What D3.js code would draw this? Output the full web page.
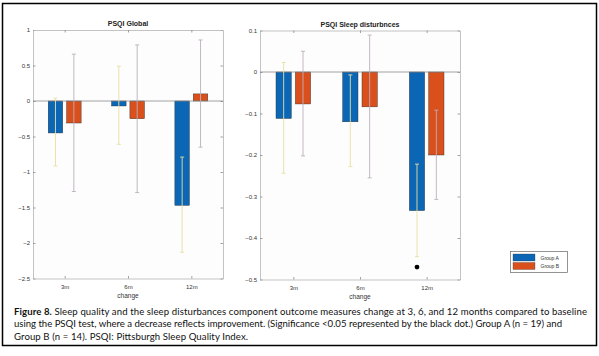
<!DOCTYPE html>
<html><head><meta charset="utf-8">
<script src="https://cdn.jsdelivr.net/npm/d3@7"></script>
<style>body{margin:0;background:#fff}svg{display:block}</style>
</head><body>
<script>
const categories = ["3m", "6m", "12m"];
const groups = ["Group A", "Group B"];
// PSQI Global
const globalA = [-0.45, -0.07, -1.47];
const globalB = [-0.31, -0.25, 0.10];
const globalALow = [-0.915, -0.61, -2.13];
const globalAHigh = [0.04, 0.49, -0.79];
const globalBLow = [-1.275, -1.29, -0.65];
const globalBHigh = [0.66, 0.79, 0.86];
const globalTicks = [-2.5, -2, -1.5, -1, -0.5, 0, 0.5, 1];
// PSQI Sleep disturbances
const distA = [-0.112, -0.12, -0.334];
const distB = [-0.077, -0.084, -0.20];
const distALow = [-0.244, -0.228, -0.445];
const distAHigh = [0.023, -0.007, -0.222];
const distBLow = [-0.202, -0.255, -0.307];
const distBHigh = [0.05, 0.089, -0.092];
const distTicks = [-0.5, -0.4, -0.3, -0.2, -0.1, 0, 0.1];
const sigPoints = [{cat: 2, value: -0.47}];
const captionLines = [
  ["Figure 8.", " Sleep quality and the sleep disturbances component outcome measures change at 3, 6, and 12 months compared to baseline"],
  ["", "using the PSQI test, where a decrease reflects improvement. (Significance <0.05 represented by the black dot.) Group A (n = 19) and"],
  ["", "Group B (n = 14). PSQI: Pittsburgh Sleep Quality Index."]
];
const captionWidths = [573, 548, 234];

const colA = "#0b67b6", colB = "#d9501c";
const errA = "#e8dfa0", errB = "#bcb0bc";

const svg = d3.select("body").append("svg").attr("width", 599).attr("height", 356);
svg.append("rect").attr("width", 599).attr("height", 356).attr("fill", "#fff");
svg.append("rect").attr("x", 2.5).attr("y", 3.5).attr("width", 594).attr("height", 342)
  .attr("fill", "none").attr("stroke", "#000").attr("stroke-width", 1.5);

function panel(opt) {
  const x = d3.scaleLinear().domain([0.5, 3.5]).range([opt.x0, opt.x1]);
  const y = d3.scaleLinear().domain(opt.ydom).range([opt.y1, opt.y0]);
  const g = svg.append("g");
  g.append("rect").attr("x", opt.x0).attr("y", opt.y0).attr("width", opt.x1 - opt.x0)
    .attr("height", opt.y1 - opt.y0).attr("fill", "#fdfdfd");
  const font = "Liberation Sans, Arial, sans-serif";
  const ax = (gen, tr) => {
    const a = g.append("g").attr("transform", tr).call(gen);
    a.select(".domain").attr("stroke", "#b4b4b4").attr("stroke-width", 0.8);
    a.selectAll(".tick line").attr("stroke", "#8c8c8c").attr("stroke-width", 0.8);
    a.selectAll("text").attr("font-family", font).attr("font-size", 6).attr("fill", "#333");
    return a;
  };
  ax(d3.axisLeft(y).tickValues(opt.ticks).tickFormat(d => d3.format("")(d)).tickSizeInner(-2.5).tickSizeOuter(0).tickPadding(3), `translate(${opt.x0},0)`);
  ax(d3.axisRight(y).tickValues(opt.ticks).tickFormat("").tickSizeInner(-2.5).tickSizeOuter(0), `translate(${opt.x1},0)`);
  ax(d3.axisBottom(x).tickValues([1, 2, 3]).tickFormat((d, i) => categories[i]).tickSizeInner(-2.5).tickSizeOuter(0).tickPadding(6), `translate(0,${opt.y1})`);
  ax(d3.axisTop(x).tickValues([1, 2, 3]).tickFormat("").tickSizeInner(-2.5).tickSizeOuter(0), `translate(0,${opt.y0})`);
  const bw = 0.23, off = 0.145;
  const series = [
    {vals: opt.a, lo: opt.aLo, hi: opt.aHi, col: colA, ecol: errA, d: -off},
    {vals: opt.b, lo: opt.bLo, hi: opt.bHi, col: colB, ecol: errB, d: off}
  ];
  series.forEach(s => {
    g.selectAll(null).data(s.vals).join("rect")
      .attr("x", (v, i) => x(i + 1 + s.d - bw / 2))
      .attr("width", x(bw) - x(0))
      .attr("y", v => y(Math.max(0, v)))
      .attr("height", v => Math.abs(y(v) - y(0)))
      .attr("fill", s.col).attr("stroke", "#2a2a2a").attr("stroke-width", 0.4);
  });
  g.append("line").attr("x1", opt.x0).attr("x2", opt.x1).attr("y1", y(0)).attr("y2", y(0))
    .attr("stroke", "#8a8a8a").attr("stroke-width", 0.8);
  series.forEach(s => {
    s.vals.forEach((v, i) => {
      const cx = x(i + 1 + s.d);
      g.append("line").attr("x1", cx).attr("x2", cx).attr("y1", y(s.lo[i])).attr("y2", y(s.hi[i]))
        .attr("stroke", s.ecol).attr("stroke-width", 0.9);
      [s.lo[i], s.hi[i]].forEach(e => g.append("line").attr("x1", cx - 2).attr("x2", cx + 2)
        .attr("y1", y(e)).attr("y2", y(e)).attr("stroke", s.ecol).attr("stroke-width", 0.9));
    });
  });
  (opt.sig || []).forEach(p => g.append("circle").attr("cx", x(p.cat + 1 - off)).attr("cy", y(p.value))
    .attr("r", 2.4).attr("fill", "#000"));
  g.append("text").attr("x", (opt.x0 + opt.x1) / 2).attr("y", opt.y0 - 4).attr("text-anchor", "middle")
    .attr("font-family", font).attr("font-weight", "bold").attr("font-size", 7).attr("fill", "#222").text(opt.title);
  g.append("text").attr("x", (opt.x0 + opt.x1) / 2).attr("y", opt.y1 + 19.5).attr("text-anchor", "middle")
    .attr("font-family", font).attr("font-size", 6.5).attr("fill", "#333").text("change");
}

panel({x0: 33, x1: 223, y0: 30, y1: 278.5, ydom: [-2.5, 1], ticks: globalTicks, title: "PSQI Global",
  a: globalA, b: globalB, aLo: globalALow, aHi: globalAHigh, bLo: globalBLow, bHi: globalBHigh});
panel({x0: 260, x1: 460, y0: 30.5, y1: 279.5, ydom: [-0.5, 0.1], ticks: distTicks, title: "PSQI Sleep disturbnces",
  a: distA, b: distB, aLo: distALow, aHi: distAHigh, bLo: distBLow, bHi: distBHigh, sig: sigPoints});

const lg = svg.append("g");
lg.append("rect").attr("x", 510.5).attr("y", 251.5).attr("width", 57).attr("height", 21)
  .attr("fill", "#fff").attr("stroke", "#666").attr("stroke-width", 0.7);
[colA, colB].forEach((c, i) => {
  lg.append("rect").attr("x", 513).attr("y", 254 + i * 8.5).attr("width", 22).attr("height", 7)
    .attr("fill", c).attr("stroke", "#333").attr("stroke-width", 0.3);
  lg.append("text").attr("x", 540.5).attr("y", 259.5 + i * 8.5).attr("font-family", "Liberation Sans, Arial, sans-serif")
    .attr("font-size", 5).attr("fill", "#333").text(groups[i]);
});

captionLines.forEach((ln, i) => {
  const t = svg.append("text").attr("x", 14).attr("y", 314.5 + i * 12.5)
    .attr("font-family", "Lato, sans-serif").attr("font-size", 9.6).attr("fill", "#111");
  if (ln[0]) t.append("tspan").attr("font-weight", "bold").text(ln[0]);
  t.append("tspan").text(ln[1]);
  const w = t.node().getComputedTextLength();
  const target = captionWidths[i];
  if (Math.abs(w - target) > 2) t.attr("textLength", target).attr("lengthAdjust", "spacing");
});
</script>
</body></html>
